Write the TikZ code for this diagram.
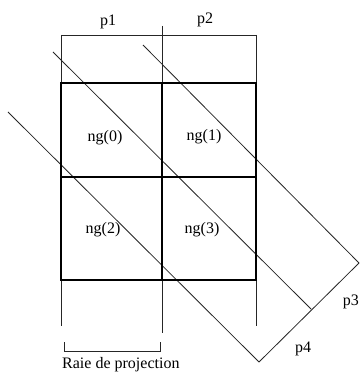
\documentclass[tikz,border=0pt]{standalone}
\usepackage{fontspec}
\setmainfont{Liberation Serif}
\begin{document}
\begin{tikzpicture}[x=1pt,y=-1pt,
  thinline/.style={draw=black!85,line width=0.8pt},
  thickline/.style={draw=black,line width=2pt},
  lbl/.style={font=\fontsize{16}{18}\selectfont,inner sep=0pt}]
\useasboundingbox[fill=white] (0,0) rectangle (360,374);
% coordinates
\coordinate (tl) at (61,35);
\coordinate (tr) at (256,35);
\coordinate (tm) at (162,26);
\coordinate (bl) at (61,326);
\coordinate (bm) at (162,333);
\coordinate (br) at (256,326);
\coordinate (g1) at (61,83);
\coordinate (g2) at (256,280);
\coordinate (gmt) at (162,83);
\coordinate (gmb) at (162,280);
\coordinate (gml) at (61,177);
\coordinate (gmr) at (256,177);
\coordinate (k1) at (64,342);
\coordinate (k2) at (64,351);
\coordinate (k3) at (160,351);
\coordinate (k4) at (160,342);
\coordinate (d1s) at (8,112);
\coordinate (bot) at (259,362);
\coordinate (d2s) at (53,52);
\coordinate (mid) at (311,309);
\coordinate (d3s) at (143,45);
\coordinate (rgt) at (359,263);
% thin lines
\draw[thinline] (tl) -- (bl);
\draw[thinline] (tm) -- (bm);
\draw[thinline] (tr) -- (br);
\draw[thinline] (tl) -- (tr);
\draw[thinline] (k1) -- (k2) -- (k3) -- (k4);
\draw[thinline] (d1s) -- (bot);
\draw[thinline] (d2s) -- (mid);
\draw[thinline] (d3s) -- (rgt);
\draw[thinline] (bot) -- (rgt);
% grid
\draw[thickline] (g1) rectangle (g2);
\draw[thickline] (gmt) -- (gmb);
\draw[thickline] (gml) -- (gmr);
% labels
\node[lbl] (p1) at (108,22) {p1};
\node[lbl] (p2) at (205,20) {p2};
\node[lbl] (n0) at (105,138) {ng(0)};
\node[lbl] (n1) at (204,137) {ng(1)};
\node[lbl] (n2) at (103,230) {ng(2)};
\node[lbl] (n3) at (202,230) {ng(3)};
\node[lbl,anchor=east] (p3) at (359,302) {p3};
\node[lbl] (p4) at (303,349) {p4};
\node[lbl,anchor=west] (raie) at (62,365) {Raie de projection};
\end{tikzpicture}
\end{document}
